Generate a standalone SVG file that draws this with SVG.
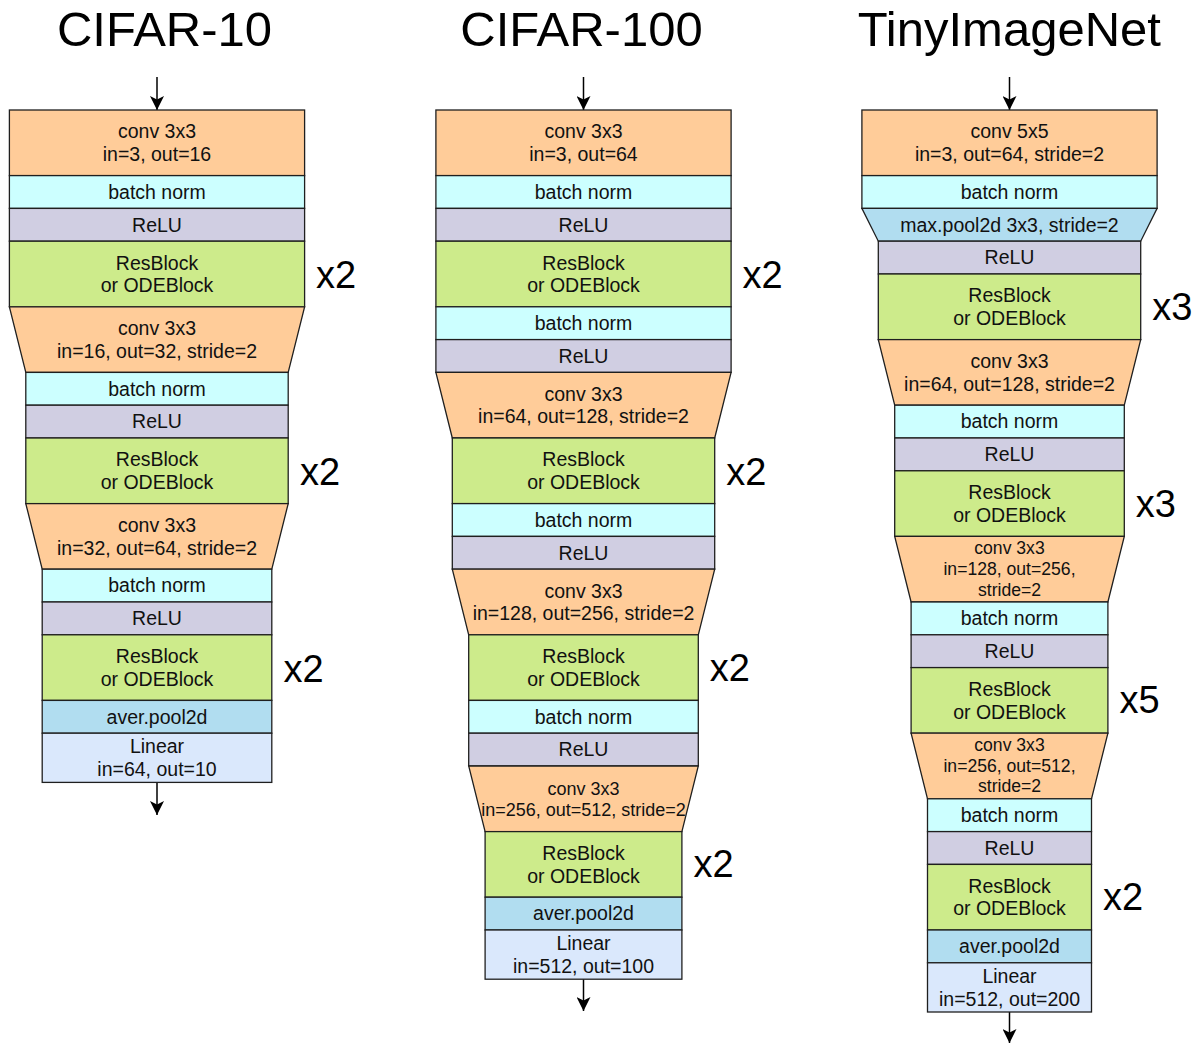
<svg xmlns="http://www.w3.org/2000/svg" width="1199" height="1044" viewBox="0 0 1199 1044">
<style>
.conv{fill:#FFCC99}
.bn{fill:#CCFFFF}
.relu{fill:#D0CEE2}
.res{fill:#CDEB8B}
.pool{fill:#B1DDF0}
.lin{fill:#DAE8FC}
rect,polygon{stroke:#1f1f1f;stroke-width:1.3}
text{font-family:"Liberation Sans",Arial,Helvetica,sans-serif;fill:#111;text-anchor:middle;font-size:19.5px}
.t{font-size:49px;fill:#000}
.m{font-size:38px;text-anchor:start;fill:#000}
.s{font-size:17.6px}
.s18{font-size:18px}
.arrow{stroke:#000;stroke-width:1.5;fill:none;marker-end:url(#arr)}
</style>
<defs>
<marker id="arr" markerUnits="userSpaceOnUse" markerWidth="14" markerHeight="14" viewBox="0 0 14 14" refX="14" refY="7" orient="auto"><path d="M0,0 L14,7 L0,14 L3.5,7 z" fill="#000"/></marker>
</defs>
<rect width="1199" height="1044" fill="#fff" style="stroke:none"/>

<g id="titles">
<text class="t" x="164.5" y="45.5">CIFAR-10</text>
<text class="t" x="581.5" y="45.5">CIFAR-100</text>
<text class="t" x="1009.3" y="45.5">TinyImageNet</text>
</g>

<g id="connectors">
<line class="arrow" x1="157" y1="77" x2="157" y2="110"/>
<line class="arrow" x1="157" y1="782.4" x2="157" y2="815"/>
<line class="arrow" x1="583.5" y1="77" x2="583.5" y2="110"/>
<line class="arrow" x1="583.5" y1="979.2" x2="583.5" y2="1011"/>
<line class="arrow" x1="1009.5" y1="77" x2="1009.5" y2="110"/>
<line class="arrow" x1="1009.5" y1="1012" x2="1009.5" y2="1043"/>
</g>

<!-- Column 1: CIFAR-10 -->
<g id="c10-conv1"><rect class="conv" x="9.4" y="110" width="295.2" height="65.6"/><text x="157" y="138.4">conv 3x3</text><text x="157" y="160.9">in=3, out=16</text></g>
<g id="c10-bn1"><rect class="bn" x="9.4" y="175.6" width="295.2" height="32.8"/><text x="157" y="198.8">batch norm</text></g>
<g id="c10-relu1"><rect class="relu" x="9.4" y="208.4" width="295.2" height="32.8"/><text x="157" y="231.6">ReLU</text></g>
<g id="c10-res1"><rect class="res" x="9.4" y="241.2" width="295.2" height="65.6"/><text x="157" y="269.6">ResBlock</text><text x="157" y="292.1">or ODEBlock</text><text class="m" x="316" y="288.3">x2</text></g>
<g id="c10-conv2"><polygon class="conv" points="9.4,306.8 304.6,306.8 288.2,372.4 25.8,372.4"/><text x="157" y="335.2">conv 3x3</text><text x="157" y="357.7">in=16, out=32, stride=2</text></g>
<g id="c10-bn2"><rect class="bn" x="25.8" y="372.4" width="262.4" height="32.8"/><text x="157" y="395.6">batch norm</text></g>
<g id="c10-relu2"><rect class="relu" x="25.8" y="405.2" width="262.4" height="32.8"/><text x="157" y="428.4">ReLU</text></g>
<g id="c10-res2"><rect class="res" x="25.8" y="438" width="262.4" height="65.6"/><text x="157" y="466.4">ResBlock</text><text x="157" y="488.9">or ODEBlock</text><text class="m" x="300" y="485">x2</text></g>
<g id="c10-conv3"><polygon class="conv" points="25.8,503.6 288.2,503.6 271.8,569.2 42.2,569.2"/><text x="157" y="532">conv 3x3</text><text x="157" y="554.5">in=32, out=64, stride=2</text></g>
<g id="c10-bn3"><rect class="bn" x="42.2" y="569.2" width="229.6" height="32.8"/><text x="157" y="592.4">batch norm</text></g>
<g id="c10-relu3"><rect class="relu" x="42.2" y="602" width="229.6" height="32.8"/><text x="157" y="625.2">ReLU</text></g>
<g id="c10-res3"><rect class="res" x="42.2" y="634.8" width="229.6" height="65.6"/><text x="157" y="663.2">ResBlock</text><text x="157" y="685.7">or ODEBlock</text><text class="m" x="283.5" y="681.7">x2</text></g>
<g id="c10-pool"><rect class="pool" x="42.2" y="700.4" width="229.6" height="32.8"/><text x="157" y="723.6">aver.pool2d</text></g>
<g id="c10-linear"><rect class="lin" x="42.2" y="733.2" width="229.6" height="49.2"/><text x="157" y="753.4">Linear</text><text x="157" y="775.9">in=64, out=10</text></g>

<!-- Column 2: CIFAR-100 -->
<g id="c100-conv1"><rect class="conv" x="435.9" y="110" width="295.2" height="65.6"/><text x="583.5" y="138.4">conv 3x3</text><text x="583.5" y="160.9">in=3, out=64</text></g>
<g id="c100-bn1"><rect class="bn" x="435.9" y="175.6" width="295.2" height="32.8"/><text x="583.5" y="198.8">batch norm</text></g>
<g id="c100-relu1"><rect class="relu" x="435.9" y="208.4" width="295.2" height="32.8"/><text x="583.5" y="231.6">ReLU</text></g>
<g id="c100-res1"><rect class="res" x="435.9" y="241.2" width="295.2" height="65.6"/><text x="583.5" y="269.6">ResBlock</text><text x="583.5" y="292.1">or ODEBlock</text><text class="m" x="742.6" y="288">x2</text></g>
<g id="c100-bn2"><rect class="bn" x="435.9" y="306.8" width="295.2" height="32.8"/><text x="583.5" y="330">batch norm</text></g>
<g id="c100-relu2"><rect class="relu" x="435.9" y="339.6" width="295.2" height="32.8"/><text x="583.5" y="362.8">ReLU</text></g>
<g id="c100-conv2"><polygon class="conv" points="435.9,372.4 731.1,372.4 714.7,438 452.3,438"/><text x="583.5" y="400.8">conv 3x3</text><text x="583.5" y="423.3">in=64, out=128, stride=2</text></g>
<g id="c100-res2"><rect class="res" x="452.3" y="438" width="262.4" height="65.6"/><text x="583.5" y="466.4">ResBlock</text><text x="583.5" y="488.9">or ODEBlock</text><text class="m" x="726.2" y="484.8">x2</text></g>
<g id="c100-bn3"><rect class="bn" x="452.3" y="503.6" width="262.4" height="32.8"/><text x="583.5" y="526.8">batch norm</text></g>
<g id="c100-relu3"><rect class="relu" x="452.3" y="536.4" width="262.4" height="32.8"/><text x="583.5" y="559.6">ReLU</text></g>
<g id="c100-conv3"><polygon class="conv" points="452.3,569.2 714.7,569.2 698.3,634.8 468.7,634.8"/><text x="583.5" y="597.6">conv 3x3</text><text x="583.5" y="620.1">in=128, out=256, stride=2</text></g>
<g id="c100-res3"><rect class="res" x="468.7" y="634.8" width="229.6" height="65.6"/><text x="583.5" y="663.2">ResBlock</text><text x="583.5" y="685.7">or ODEBlock</text><text class="m" x="709.8" y="681">x2</text></g>
<g id="c100-bn4"><rect class="bn" x="468.7" y="700.4" width="229.6" height="32.8"/><text x="583.5" y="723.6">batch norm</text></g>
<g id="c100-relu4"><rect class="relu" x="468.7" y="733.2" width="229.6" height="32.8"/><text x="583.5" y="756.4">ReLU</text></g>
<g id="c100-conv4"><polygon class="conv" points="468.7,766 698.3,766 681.9,831.6 485.1,831.6"/><text class="s18" x="583.5" y="794.6">conv 3x3</text><text class="s18" x="583.5" y="816.4">in=256, out=512, stride=2</text></g>
<g id="c100-res4"><rect class="res" x="485.1" y="831.6" width="196.8" height="65.6"/><text x="583.5" y="860">ResBlock</text><text x="583.5" y="882.5">or ODEBlock</text><text class="m" x="693.4" y="877.4">x2</text></g>
<g id="c100-pool"><rect class="pool" x="485.1" y="897.2" width="196.8" height="32.8"/><text x="583.5" y="920.4">aver.pool2d</text></g>
<g id="c100-linear"><rect class="lin" x="485.1" y="930" width="196.8" height="49.2"/><text x="583.5" y="950.2">Linear</text><text x="583.5" y="972.7">in=512, out=100</text></g>

<!-- Column 3: TinyImageNet -->
<g id="tin-conv1"><rect class="conv" x="861.9" y="110" width="295.2" height="65.6"/><text x="1009.5" y="138.4">conv 5x5</text><text x="1009.5" y="160.9">in=3, out=64, stride=2</text></g>
<g id="tin-bn1"><rect class="bn" x="861.9" y="175.6" width="295.2" height="32.8"/><text x="1009.5" y="198.8">batch norm</text></g>
<g id="tin-maxpool"><polygon class="pool" points="861.9,208.4 1157.1,208.4 1140.7,241.2 878.3,241.2"/><text x="1009.5" y="231.6">max.pool2d 3x3, stride=2</text></g>
<g id="tin-relu1"><rect class="relu" x="878.3" y="241.2" width="262.4" height="32.8"/><text x="1009.5" y="264.4">ReLU</text></g>
<g id="tin-res1"><rect class="res" x="878.3" y="274" width="262.4" height="65.6"/><text x="1009.5" y="302.4">ResBlock</text><text x="1009.5" y="324.9">or ODEBlock</text><text class="m" x="1152.2" y="319.8">x3</text></g>
<g id="tin-conv2"><polygon class="conv" points="878.3,339.6 1140.7,339.6 1124.3,405.2 894.7,405.2"/><text x="1009.5" y="368">conv 3x3</text><text x="1009.5" y="390.5">in=64, out=128, stride=2</text></g>
<g id="tin-bn2"><rect class="bn" x="894.7" y="405.2" width="229.6" height="32.8"/><text x="1009.5" y="428.4">batch norm</text></g>
<g id="tin-relu2"><rect class="relu" x="894.7" y="438" width="229.6" height="32.8"/><text x="1009.5" y="461.2">ReLU</text></g>
<g id="tin-res2"><rect class="res" x="894.7" y="470.8" width="229.6" height="65.6"/><text x="1009.5" y="499.2">ResBlock</text><text x="1009.5" y="521.7">or ODEBlock</text><text class="m" x="1135.8" y="516.8">x3</text></g>
<g id="tin-conv3"><polygon class="conv" points="894.7,536.4 1124.3,536.4 1107.9,602 911.1,602"/><text class="s" x="1009.5" y="553.9">conv 3x3</text><text class="s" x="1009.5" y="574.7">in=128, out=256,</text><text class="s" x="1009.5" y="595.5">stride=2</text></g>
<g id="tin-bn3"><rect class="bn" x="911.1" y="602" width="196.8" height="32.8"/><text x="1009.5" y="625.2">batch norm</text></g>
<g id="tin-relu3"><rect class="relu" x="911.1" y="634.8" width="196.8" height="32.8"/><text x="1009.5" y="658">ReLU</text></g>
<g id="tin-res3"><rect class="res" x="911.1" y="667.6" width="196.8" height="65.6"/><text x="1009.5" y="696">ResBlock</text><text x="1009.5" y="718.5">or ODEBlock</text><text class="m" x="1119.4" y="713.4">x5</text></g>
<g id="tin-conv4"><polygon class="conv" points="911.1,733.2 1107.9,733.2 1091.5,798.8 927.5,798.8"/><text class="s" x="1009.5" y="750.7">conv 3x3</text><text class="s" x="1009.5" y="771.5">in=256, out=512,</text><text class="s" x="1009.5" y="792.3">stride=2</text></g>
<g id="tin-bn4"><rect class="bn" x="927.5" y="798.8" width="164" height="32.8"/><text x="1009.5" y="822">batch norm</text></g>
<g id="tin-relu4"><rect class="relu" x="927.5" y="831.6" width="164" height="32.8"/><text x="1009.5" y="854.8">ReLU</text></g>
<g id="tin-res4"><rect class="res" x="927.5" y="864.4" width="164" height="65.6"/><text x="1009.5" y="892.8">ResBlock</text><text x="1009.5" y="915.3">or ODEBlock</text><text class="m" x="1103" y="910.4">x2</text></g>
<g id="tin-pool"><rect class="pool" x="927.5" y="930" width="164" height="32.8"/><text x="1009.5" y="953.2">aver.pool2d</text></g>
<g id="tin-linear"><rect class="lin" x="927.5" y="962.8" width="164" height="49.2"/><text x="1009.5" y="983">Linear</text><text x="1009.5" y="1005.5">in=512, out=200</text></g>
</svg>
